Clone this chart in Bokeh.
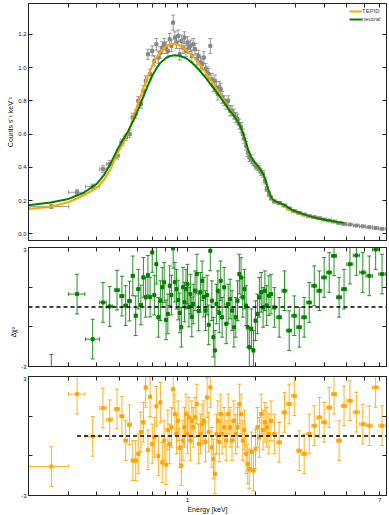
from math import pi
from bokeh.plotting import figure
from bokeh.models import (ColumnDataSource, FixedTicker, LogAxis, LinearAxis, Span,
                          Legend, LegendItem, Range1d, NumeralTickFormatter)
from bokeh.layouts import column
from bokeh.embed import file_html
from bokeh.resources import INLINE

FONT = "Liberation Sans"

# ---------------- data ----------------
energy = [0.252, 0.327, 0.383, 0.425, 0.455, 0.49, 0.515, 0.535, 0.556, 0.575,
          0.592, 0.608, 0.624, 0.64, 0.655, 0.67, 0.685, 0.70, 0.715, 0.73,
          0.745, 0.76, 0.775, 0.79, 0.805, 0.82, 0.835, 0.85, 0.865, 0.88,
          0.895, 0.91, 0.925, 0.94, 0.955, 0.97, 0.985, 1.00, 1.015, 1.03,
          1.045, 1.06, 1.08, 1.10, 1.12, 1.14, 1.16, 1.18, 1.20, 1.22,
          1.24, 1.26, 1.28, 1.30, 1.32, 1.34, 1.36, 1.38, 1.40, 1.42,
          1.45, 1.48, 1.51, 1.54, 1.57, 1.60, 1.63, 1.66, 1.69, 1.72,
          1.75, 1.78, 1.81, 1.84, 1.87, 1.91, 1.95, 1.99, 2.03, 2.07,
          2.11, 2.15, 2.19, 2.23, 2.28, 2.33, 2.41, 2.53, 2.67, 2.80,
          2.95, 3.10, 3.26, 3.43, 3.61, 3.80, 3.99, 4.20, 4.41, 4.64,
          4.88, 5.18, 5.53, 5.90, 6.30, 6.72, 7.17]

energy_err = [0.049, 0.027, 0.027, 0.014, 0.014, 0.013, 0.011, 0.010, 0.010, 0.009,
              0.008, 0.008, 0.008, 0.008, 0.007, 0.007, 0.007, 0.007, 0.007, 0.007,
              0.007, 0.007, 0.007, 0.007, 0.007, 0.007, 0.007, 0.007, 0.007, 0.007,
              0.007, 0.007, 0.007, 0.007, 0.007, 0.007, 0.007, 0.007, 0.007, 0.007,
              0.007, 0.008, 0.010, 0.010, 0.010, 0.010, 0.010, 0.010, 0.010, 0.010,
              0.010, 0.010, 0.010, 0.010, 0.010, 0.010, 0.010, 0.010, 0.010, 0.010,
              0.015, 0.015, 0.015, 0.015, 0.015, 0.015, 0.015, 0.015, 0.015, 0.015,
              0.015, 0.015, 0.015, 0.015, 0.015, 0.020, 0.020, 0.020, 0.020, 0.020,
              0.020, 0.020, 0.020, 0.020, 0.025, 0.030, 0.040, 0.060, 0.066, 0.070,
              0.074, 0.078, 0.081, 0.086, 0.090, 0.095, 0.100, 0.105, 0.110, 0.116,
              0.122, 0.160, 0.170, 0.180, 0.200, 0.210, 0.230]

counts = [0.164, 0.250, 0.284, 0.390, 0.420, 0.470, 0.550, 0.580, 0.600, 0.700,
          0.720, 0.800, 0.780, 0.860, 0.920, 1.080, 0.960, 1.100, 1.040, 1.140,
          1.060, 1.090, 1.120, 1.140, 1.120, 1.100, 1.170, 1.130, 1.270, 1.180,
          1.150, 1.190, 1.080, 1.160, 1.120, 1.180, 1.100, 1.150, 1.120, 1.130,
          1.070, 1.140, 1.110, 1.050, 1.070, 1.030, 1.020, 1.060, 0.990, 0.970,
          0.960, 1.130, 0.930, 0.890, 0.920, 0.880, 0.840, 0.880, 0.870, 0.820,
          0.800, 0.780, 0.800, 0.740, 0.740, 0.720, 0.700, 0.690, 0.660, 0.640,
          0.600, 0.570, 0.530, 0.490, 0.460, 0.450, 0.430, 0.410, 0.400, 0.390,
          0.370, 0.360, 0.320, 0.270, 0.240, 0.215, 0.195, 0.185, 0.170, 0.152,
          0.136, 0.126, 0.116, 0.106, 0.100, 0.094, 0.086, 0.080, 0.074, 0.066,
          0.060, 0.056, 0.050, 0.045, 0.040, 0.035, 0.030]

counts_err = [0.012, 0.015, 0.015, 0.020, 0.020, 0.020, 0.020, 0.020, 0.020, 0.025,
              0.025, 0.025, 0.025, 0.030, 0.030, 0.030, 0.030, 0.030, 0.030, 0.035,
              0.035, 0.035, 0.035, 0.035, 0.035, 0.035, 0.035, 0.035, 0.045, 0.035,
              0.035, 0.035, 0.035, 0.035, 0.035, 0.035, 0.035, 0.035, 0.035, 0.035,
              0.035, 0.035, 0.035, 0.035, 0.035, 0.035, 0.035, 0.035, 0.035, 0.035,
              0.035, 0.045, 0.035, 0.035, 0.035, 0.035, 0.035, 0.035, 0.035, 0.035,
              0.030, 0.030, 0.030, 0.030, 0.030, 0.030, 0.030, 0.030, 0.030, 0.030,
              0.030, 0.025, 0.025, 0.025, 0.025, 0.025, 0.020, 0.020, 0.020, 0.020,
              0.020, 0.020, 0.020, 0.015, 0.015, 0.012, 0.010, 0.010, 0.008, 0.008,
              0.007, 0.007, 0.006, 0.006, 0.006, 0.005, 0.005, 0.005, 0.005, 0.004,
              0.004, 0.004, 0.004, 0.004, 0.004, 0.004, 0.004]

res_neutral = [-3.40, 0.65, -1.62, 0.23, 0.03, 0.85, 0.55, 0.07, 0.30, 1.57,
               -0.44, 0.90, 0.10, 1.49, 0.49, 1.60, 0.50, 2.75, 0.60, 2.16,
               -0.52, 0.32, 1.00, 1.24, -0.65, -0.35, 1.07, 0.60, 2.96, 1.25,
               0.90, 0.35, -0.30, -1.02, 1.00, 0.25, 0.90, 1.15, 0.00, 0.65,
               -0.50, 0.15, 0.82, 1.66, -0.20, 0.74, 1.32, 0.50, -0.18, 0.60,
               -0.90, 2.83, 0.32, -1.52, -2.19, 0.15, 0.82, -0.30, 1.32, -0.52,
               0.99, -0.85, 0.15, 0.40, -0.18, -1.02, -0.52, 0.32, 1.66, 1.49,
               0.49, 0.90, 0.07, -1.02, -2.03, -1.10, -2.19, -0.69, -0.35, 0.49,
               0.74, -0.02, 0.82, 0.07, 0.57, 0.65, -0.02, -0.52, 0.82, -1.19,
               -0.44, -1.02, -0.52, 0.23, 1.07, 0.82, 1.49, 1.74, 2.58, 0.49,
               0.90, 2.16, 2.60, 1.74, 1.57, 2.90, 1.66]

res_tepid = [-1.54, 2.11, -0.02, 1.41, 0.82, 1.36, 1.00, -0.23, 0.57, -1.24,
             -1.24, -0.90, 0.20, 0.69, 2.45, -0.70, 1.98, -0.40, -0.07, 1.50,
             -1.00, 1.69, -1.34, -0.23, -1.44, 0.30, -0.40, 0.44, 2.36, 1.11,
             0.10, 0.77, -0.60, -1.49, -0.23, 0.44, 1.11, 0.10, 0.94, -0.23,
             0.77, 0.44, 0.94, 1.61, -0.40, 0.10, 0.60, 0.77, -0.30, 1.94,
             0.20, 2.45, -0.57, -1.16, -1.91, 0.10, 0.77, -0.30, 1.11, 0.10,
             0.44, -0.23, 1.11, 0.44, -0.23, 0.77, 0.10, 0.44, 1.61, 1.11,
             -0.23, 0.30, -0.90, -1.41, -1.66, -0.80, -1.74, -0.65, 0.44, -0.07,
             1.11, 0.30, 0.69, 0.44, 0.10, 0.77, 0.10, -0.32, 1.19, 1.61,
             2.03, -0.74, -0.90, 0.10, 0.52, 0.94, 0.69, 1.44, 2.11, -0.23,
             1.52, 1.78, 1.20, 0.60, 0.52, 2.45, 0.52]

res_err = 1.0

model_energy = [0.20, 0.25, 0.30, 0.35, 0.40, 0.43, 0.46, 0.49, 0.52, 0.55,
                0.58, 0.61, 0.64, 0.67, 0.70, 0.73, 0.76, 0.80, 0.84, 0.88,
                0.92, 0.96, 1.00, 1.05, 1.10, 1.15, 1.20, 1.25, 1.30, 1.35,
                1.40, 1.45, 1.50, 1.55, 1.60, 1.65, 1.70, 1.75, 1.80, 1.85,
                1.90, 1.95, 2.00, 2.05, 2.10, 2.15, 2.20, 2.25, 2.30, 2.35,
                2.40, 2.50, 2.60, 2.70, 2.80, 2.90, 3.00, 3.20, 3.40, 3.60,
                3.80, 4.00, 4.20, 4.40, 4.60, 4.90]

model_tepid = [0.150, 0.163, 0.190, 0.232, 0.278, 0.325, 0.395, 0.480, 0.545, 0.615,
               0.705, 0.795, 0.875, 0.950, 1.012, 1.058, 1.093, 1.125, 1.141, 1.143,
               1.135, 1.118, 1.098, 1.070, 1.040, 1.005, 0.970, 0.935, 0.900, 0.864,
               0.830, 0.797, 0.767, 0.740, 0.713, 0.685, 0.652, 0.608, 0.555, 0.500,
               0.462, 0.437, 0.418, 0.400, 0.381, 0.357, 0.322, 0.276, 0.236, 0.210,
               0.198, 0.188, 0.178, 0.162, 0.146, 0.136, 0.130, 0.117, 0.106, 0.097,
               0.090, 0.084, 0.079, 0.074, 0.070, 0.066]

model_neutral = [0.172, 0.188, 0.210, 0.247, 0.302, 0.355, 0.425, 0.502, 0.565, 0.620,
                 0.685, 0.755, 0.825, 0.893, 0.950, 0.995, 1.028, 1.055, 1.070, 1.074,
                 1.071, 1.062, 1.050, 1.027, 1.000, 0.970, 0.940, 0.908, 0.878, 0.848,
                 0.818, 0.788, 0.760, 0.734, 0.709, 0.683, 0.652, 0.610, 0.558, 0.503,
                 0.465, 0.440, 0.421, 0.402, 0.383, 0.360, 0.326, 0.282, 0.241, 0.213,
                 0.200, 0.190, 0.180, 0.169, 0.155, 0.142, 0.134, 0.120, 0.108, 0.099,
                 0.091, 0.085, 0.080, 0.075, 0.070, 0.066]

x_ticks = [0.3, 0.4, 0.5, 0.6, 0.7, 0.8, 0.9, 1, 2, 3, 4, 5, 6, 7]
x_tick_labels = {1: "1", 7: "7"}
counts_ticks = [0.0, 0.2, 0.4, 0.6, 0.8, 1.0, 1.2]
res_ticks = [-3, -1, 1, 3]
res_tick_labels = {-3: "-3", 3: "3"}

X_RANGE = (0.2, 7.5)
COUNTS_RANGE = (-0.04, 1.385)
RES_RANGE = (-3, 3)

GREY = "#888888"
ORANGE = "#FFA500"
GREEN = "#008000"
AXC = "#222222"

W = 389


def style_axis(ax, ticks, overrides=None, labels=True, label_size="6px"):
    ax.ticker = FixedTicker(ticks=ticks, minor_ticks=[])
    ax.major_tick_in = 4
    ax.major_tick_out = 0
    ax.minor_tick_in = 0
    ax.minor_tick_out = 0
    ax.axis_line_color = AXC
    ax.axis_line_width = 1
    ax.major_tick_line_color = AXC
    ax.major_label_text_font = FONT
    ax.major_label_text_color = "#111111"
    ax.axis_label_text_font = FONT
    ax.axis_label_text_font_style = "normal"
    ax.axis_label_text_font_size = "7px"
    ax.axis_label_text_color = "#111111"
    ax.axis_label_standoff = 1
    if labels:
        ax.major_label_text_font_size = label_size
        ax.major_label_standoff = 2
        if overrides is not None:
            ax.major_label_overrides = {t: overrides.get(t, "") for t in ticks}
    else:
        ax.major_label_text_font_size = "0px"
        ax.major_label_standoff = 0
        ax.major_label_overrides = {t: "" for t in ticks}


def make_fig(height, y_range, border_top, border_bottom, y_ticks, y_overrides,
             x_labels=False):
    p = figure(width=W, height=height, x_axis_type="log",
               x_range=Range1d(*X_RANGE), y_range=Range1d(*y_range),
               output_backend="svg", toolbar_location=None,
               min_border_left=28, min_border_right=3, min_border_top=border_top,
               min_border_bottom=border_bottom)
    p.grid.visible = False
    p.outline_line_color = AXC
    p.outline_line_width = 1
    bottom_axis = p.below[0]
    left_axis = p.left[0]
    style_axis(bottom_axis, x_ticks, x_tick_labels, labels=x_labels)
    style_axis(left_axis, y_ticks, y_overrides, labels=True)
    top = LogAxis()
    style_axis(top, x_ticks, labels=False)
    p.add_layout(top, "above")
    right = LinearAxis()
    style_axis(right, y_ticks, labels=False)
    p.add_layout(right, "right")
    return p, bottom_axis, left_axis


def draw_points(p, src, color, alpha):
    p.segment(x0="xl", y0="y", x1="xh", y1="y", source=src, line_color=color,
              line_width=1, line_alpha=alpha)
    p.segment(x0="x", y0="yl", x1="x", y1="yh", source=src, line_color=color,
              line_width=1, line_alpha=alpha)
    for col in ("yl", "yh"):
        p.scatter(x="x", y=col, source=src, marker="dash", size=4,
                  line_color=color, line_width=1, line_alpha=alpha)
    for col in ("xl", "xh"):
        p.scatter(x=col, y="y", source=src, marker="dash", size=4, angle=pi / 2,
                  line_color=color, line_width=1, line_alpha=alpha)
    p.scatter(x="x", y="y", source=src, marker="square", size=3,
              fill_color=color, line_color=color, alpha=1.0)


x_lo = [e - d for e, d in zip(energy, energy_err)]
x_hi = [e + d for e, d in zip(energy, energy_err)]

# ---------------- main spectrum ----------------
p1, p1_bottom, p1_left = make_fig(247, COUNTS_RANGE, 3, 7, counts_ticks, None)
p1_left.formatter = NumeralTickFormatter(format="0.0")
p1_left.axis_label = "Counts s\u207b\u00b9 keV\u207b\u00b9"

src_data = ColumnDataSource(dict(
    x=energy, y=counts, xl=x_lo, xh=x_hi,
    yl=[c - e for c, e in zip(counts, counts_err)],
    yh=[c + e for c, e in zip(counts, counts_err)]))
draw_points(p1, src_data, GREY, 0.85)

r_t = p1.line(model_energy, model_tepid, line_color=ORANGE, line_width=2)
r_n = p1.line(model_energy, model_neutral, line_color=GREEN, line_width=2)

legend = Legend(items=[LegendItem(label="TEPID", renderers=[r_t]),
                       LegendItem(label="neutral", renderers=[r_n])],
                location="top_right", margin=3, padding=1, spacing=0,
                label_text_font=FONT, label_text_font_size="6px",
                label_height=8, glyph_height=8, glyph_width=13, label_standoff=0,
                border_line_alpha=0, background_fill_alpha=0)
p1.add_layout(legend)

# ---------------- neutral residuals ----------------
p2, p2_bottom, p2_left = make_fig(129, RES_RANGE, 0, 10, res_ticks, res_tick_labels)
# label sits below the panel centre in the reference: pad its upper end
p2_left.axis_label = "\u0394\u03c7\u00b2" + "\u00a0" * 26
src_n = ColumnDataSource(dict(
    x=energy, y=res_neutral, xl=x_lo, xh=x_hi,
    yl=[r - res_err for r in res_neutral],
    yh=[r + res_err for r in res_neutral]))
draw_points(p2, src_n, GREEN, 0.85)
p2.add_layout(Span(location=0, dimension="width", line_color="black",
                   line_width=1.5, line_dash="4 3"))

# ---------------- TEPID residuals ----------------
p3, p3_bottom, p3_left = make_fig(139, RES_RANGE, 0, 20, res_ticks, res_tick_labels,
                                  x_labels=True)
p3_bottom.axis_label = "Energy [keV]"
src_t = ColumnDataSource(dict(
    x=energy, y=res_tepid, xl=x_lo, xh=x_hi,
    yl=[r - res_err for r in res_tepid],
    yh=[r + res_err for r in res_tepid]))
draw_points(p3, src_t, ORANGE, 0.85)
p3.line([energy[1], X_RANGE[1]], [0, 0], line_color="black", line_width=1.5,
        line_dash="4 3")

layout = column(p1, p2, p3, spacing=0)
open("out.html", "w").write(file_html(layout, INLINE))
